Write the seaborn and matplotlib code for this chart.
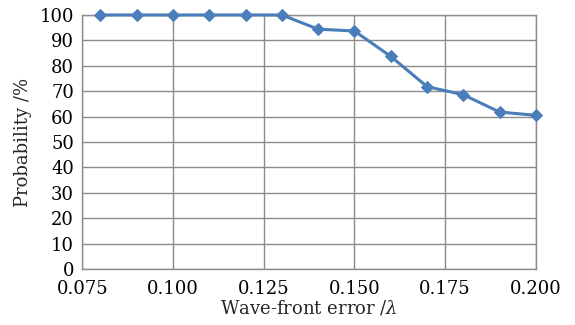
import matplotlib
matplotlib.use("Agg")
import matplotlib.pyplot as plt
import seaborn as sns
import pandas as pd

wavefront_error = [0.08, 0.09, 0.10, 0.11, 0.12, 0.13, 0.14, 0.15, 0.16, 0.17, 0.18, 0.19, 0.20]
probability = [100, 100, 100, 100, 100, 100, 94.4, 93.7, 83.7, 71.8, 68.6, 61.8, 60.5]
x_ticks = [0.075, 0.100, 0.125, 0.150, 0.175, 0.200]
x_tick_labels = ["0.075", "0.100", "0.125", "0.150", "0.175", "0.200"]
y_ticks = list(range(0, 101, 10))

df = pd.DataFrame({"x": wavefront_error, "y": probability})

sns.set_theme(style="whitegrid")
plt.rcParams["font.family"] = ["DejaVu Serif"]
plt.rcParams["mathtext.fontset"] = "dejavuserif"

fig = plt.figure(figsize=(5.75, 3.25), dpi=100)
ax = fig.add_axes([0.143, 0.172, 0.789, 0.782])

sns.lineplot(data=df, x="x", y="y", ax=ax, color="#4a7ebb", linewidth=2.2,
             marker="D", markersize=6.5, markeredgecolor="#4a7ebb", clip_on=False, zorder=5)

ax.set_xlim(0.075, 0.200)
ax.set_ylim(0, 100)
ax.set_xticks(x_ticks)
ax.set_xticklabels(x_tick_labels)
ax.set_yticks(y_ticks)
ax.grid(True, color="#8c8c8c", linewidth=1.0)
for s in ax.spines.values():
    s.set_visible(True)
    s.set_color("#8c8c8c")
    s.set_linewidth(1.0)
ax.tick_params(axis="y", labelsize=13, colors="black", length=4, color="#8c8c8c", pad=2)
ax.tick_params(axis="x", labelsize=13, colors="black", length=0, pad=8)
ax.set_xlabel("Wave-front error /$\\lambda$", fontsize=13, labelpad=0)
ax.set_ylabel("Probability /%", fontsize=13, labelpad=5)

fig.savefig("out.png", dpi=100)
